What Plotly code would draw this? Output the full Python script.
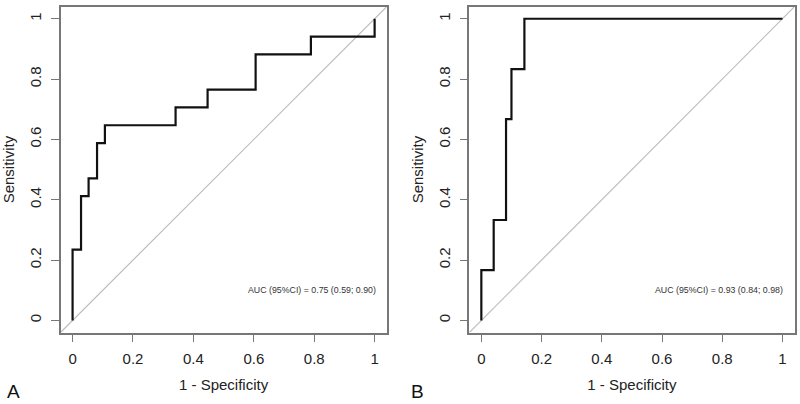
import plotly.graph_objects as go

# ROC step points (1 - specificity, sensitivity)
fpr_a = [0.0, 0.0, 0.028, 0.053, 0.081, 0.107, 0.341, 0.447, 0.606, 0.789, 1.0]
tpr_a = [0.0, 0.235, 0.412, 0.471, 0.588, 0.647, 0.706, 0.765, 0.882, 0.941, 1.0]
fpr_b = [0.0, 0.0, 0.041, 0.082, 0.100, 0.143, 1.0]
tpr_b = [0.0, 0.167, 0.333, 0.667, 0.833, 1.0, 1.0]
ref_line = [-0.04, 1.04]
tick_vals = [0, 0.2, 0.4, 0.6, 0.8, 1]
tick_text = ["0", "0.2", "0.4", "0.6", "0.8", "1"]
auc_a = "AUC (95%CI) = 0.75 (0.59; 0.90)"
auc_b = "AUC (95%CI) = 0.93 (0.84; 0.98)"
panel_labels = ["A", "B"]

FONT = "Liberation Sans, Arial, sans-serif"
BOX = "#777777"

fig = go.Figure()
for i, (fx, ty) in enumerate([(fpr_a, tpr_a), (fpr_b, tpr_b)]):
    xa = "x" if i == 0 else "x2"
    ya = "y" if i == 0 else "y2"
    fig.add_trace(go.Scatter(x=ref_line, y=ref_line, mode="lines",
                             line=dict(color="#bdbdbd", width=1.2),
                             xaxis=xa, yaxis=ya, showlegend=False, hoverinfo="skip"))
    fig.add_trace(go.Scatter(x=fx, y=ty, mode="lines", line_shape="hv",
                             line=dict(color="#111111", width=2.2),
                             xaxis=xa, yaxis=ya, showlegend=False))

ydom = [(404 - 332.5) / 404, (404 - 6.7) / 404]
xdoms = [[60.5 / 800, 386.7 / 800], [469.3 / 800, 794.5 / 800]]

axis_common = dict(range=[-0.04, 1.04], tickvals=tick_vals, ticktext=tick_text,
                   ticks="outside", ticklen=8, tickwidth=1.3, tickcolor=BOX,
                   showline=True, linecolor=BOX, linewidth=1.5, mirror=True,
                   showgrid=False, zeroline=False, fixedrange=True, automargin=False,
                   ticklabelstandoff=4,
                   tickfont=dict(family=FONT, size=15, color="#222222"))

layout = dict(width=800, height=404, margin=dict(l=0, r=0, t=0, b=0),
              plot_bgcolor="white", paper_bgcolor="white",
              font=dict(family=FONT, color="#222222"))
for i in range(2):
    sx = "" if i == 0 else "2"
    layout["xaxis" + sx] = dict(axis_common, domain=xdoms[i], anchor="y" + sx,
                                title=dict(text="1 - Specificity", font=dict(size=15, family=FONT), standoff=13))
    layout["yaxis" + sx] = dict(axis_common, domain=ydom, anchor="x" + sx, tickangle=-90,
                                title=dict(text="Sensitivity", font=dict(size=15, family=FONT), standoff=8))
fig.update_layout(**layout)

for i, txt in enumerate([auc_a, auc_b]):
    sx = "" if i == 0 else "2"
    fig.add_annotation(x=1.01, y=0.10, xref="x" + sx, yref="y" + sx, text=txt,
                       showarrow=False, xanchor="right", yanchor="middle",
                       font=dict(family=FONT, size=8.8, color="#333333"))

for lab, px in zip(panel_labels, [13, 417]):
    fig.add_annotation(x=px / 800, y=(404 - 391) / 404, xref="paper", yref="paper", text=lab,
                       showarrow=False, xanchor="center", yanchor="middle",
                       font=dict(family=FONT, size=19, color="#111111"))

fig.write_html("out.html", config={"displayModeBar": False},
               post_script="document.body.style.margin='0px';document.body.style.overflow='hidden';")
